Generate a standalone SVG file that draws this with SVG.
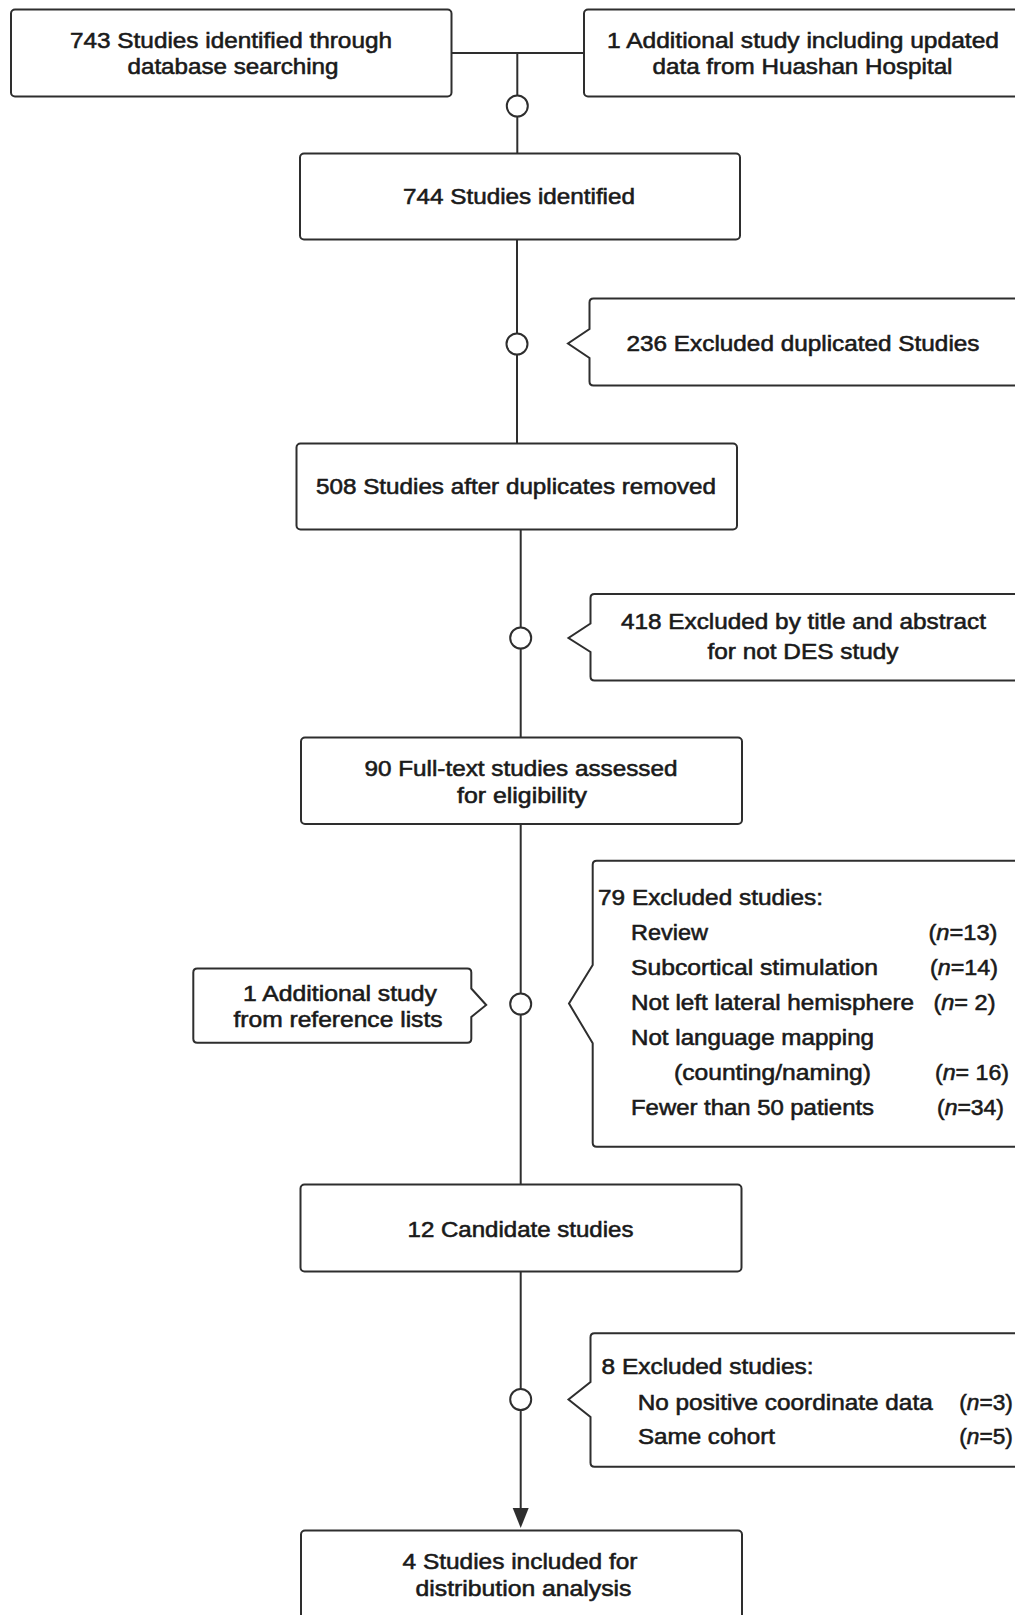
<svg xmlns="http://www.w3.org/2000/svg" width="1015" height="1615" viewBox="0 0 1015 1615">
<style>
.box{fill:#fff;stroke:#2e2e2e;stroke-width:2}
.ln{fill:none;stroke:#2e2e2e;stroke-width:2}
.dot{fill:#fff;stroke:#2e2e2e;stroke-width:2}
text{font-family:"Liberation Sans",Arial,Helvetica,sans-serif;font-size:21.3px;fill:#1a1a1a;stroke:#1a1a1a;stroke-width:0.55}
.c{text-anchor:middle}
.i{font-style:italic}
</style>
<rect width="1015" height="1615" fill="#fff"/>

<g id="connectors">
<line class="ln" x1="451.5" y1="53" x2="584" y2="53"/>
<line class="ln" x1="517.3" y1="53" x2="517.3" y2="153.5"/>
<line class="ln" x1="517" y1="239.5" x2="517" y2="443.5"/>
<line class="ln" x1="520.7" y1="529.5" x2="520.7" y2="737.5"/>
<line class="ln" x1="520.7" y1="824" x2="520.7" y2="1184.5"/>
<path class="ln" d="M520.7,1271.5 V1508"/>
<path d="M512.7,1508 L528.7,1508 L520.7,1528 Z" fill="#2e2e2e"/>
<ellipse class="dot" cx="517.3" cy="106" rx="10.5" ry="10.5"/>
<ellipse class="dot" cx="517" cy="344" rx="10.5" ry="10.5"/>
<ellipse class="dot" cx="520.7" cy="638" rx="10.5" ry="10.5"/>
<ellipse class="dot" cx="520.7" cy="1004" rx="10.5" ry="10.5"/>
<ellipse class="dot" cx="520.7" cy="1399.5" rx="10.5" ry="10.5"/>
</g>

<g id="n1">
<rect class="box" x="11" y="9.5" width="440.5" height="87" rx="4"/>
<text class="c" x="231" y="48" textLength="322" lengthAdjust="spacingAndGlyphs">743 Studies identified through</text>
<text class="c" x="233" y="74" textLength="211" lengthAdjust="spacingAndGlyphs">database searching</text>
</g>

<g id="n2">
<rect class="box" x="584" y="9.5" width="440" height="87" rx="4"/>
<text class="c" x="803" y="48" textLength="392" lengthAdjust="spacingAndGlyphs">1 Additional study including updated</text>
<text class="c" x="802.5" y="74" textLength="300" lengthAdjust="spacingAndGlyphs">data from Huashan Hospital</text>
</g>

<g id="n3">
<rect class="box" x="300" y="153.5" width="440" height="86" rx="4"/>
<text class="c" x="519" y="204" textLength="232" lengthAdjust="spacingAndGlyphs">744 Studies identified</text>
</g>

<g id="n4">
<path class="box" d="M1030,298.5 H593.5 Q589.5,298.5 589.5,302.5 V329 L568,343.5 L589.5,358 V381.5 Q589.5,385.5 593.5,385.5 H1030"/>
<text class="c" x="803" y="350.5" textLength="353" lengthAdjust="spacingAndGlyphs">236 Excluded duplicated Studies</text>
</g>

<g id="n5">
<rect class="box" x="296.5" y="443.5" width="440.5" height="86" rx="4"/>
<text class="c" x="516" y="494.3" textLength="400" lengthAdjust="spacingAndGlyphs">508 Studies after duplicates removed</text>
</g>

<g id="n6">
<path class="box" d="M1030,594 H594.5 Q590.5,594 590.5,598 V623.5 L568.5,638 L590.5,652 V676.5 Q590.5,680.5 594.5,680.5 H1030"/>
<text class="c" x="803.5" y="629.3" textLength="365" lengthAdjust="spacingAndGlyphs">418 Excluded by title and abstract</text>
<text class="c" x="803" y="659" textLength="191" lengthAdjust="spacingAndGlyphs">for not DES study</text>
</g>

<g id="n7">
<rect class="box" x="301" y="737.5" width="441" height="86.5" rx="4"/>
<text class="c" x="521" y="776" textLength="313" lengthAdjust="spacingAndGlyphs">90 Full-text studies assessed</text>
<text class="c" x="522" y="803" textLength="130" lengthAdjust="spacingAndGlyphs">for eligibility</text>
</g>

<g id="n8">
<path class="box" d="M197.3,968.5 H467.3 Q471.3,968.5 471.3,972.5 V988.5 L486.2,1005 L471.3,1017 V1038.7 Q471.3,1042.7 467.3,1042.7 H197.3 Q193.3,1042.7 193.3,1038.7 V972.5 Q193.3,968.5 197.3,968.5 Z"/>
<text class="c" x="340" y="1000.7" textLength="194" lengthAdjust="spacingAndGlyphs">1 Additional study</text>
<text class="c" x="338" y="1026.7" textLength="209" lengthAdjust="spacingAndGlyphs">from reference lists</text>
</g>

<g id="n9">
<path class="box" d="M1030,860.7 H596.7 Q592.7,860.7 592.7,864.7 V965 L569,1003.5 L592.7,1043.3 V1142.7 Q592.7,1146.7 596.7,1146.7 H1030"/>
<text x="598" y="904.5" textLength="225" lengthAdjust="spacingAndGlyphs">79 Excluded studies:</text>
<text x="631" y="940" textLength="77" lengthAdjust="spacingAndGlyphs">Review</text>
<text x="928.5" y="940" textLength="69" lengthAdjust="spacingAndGlyphs">(<tspan class="i">n</tspan>=13)</text>
<text x="631" y="975" textLength="247" lengthAdjust="spacingAndGlyphs">Subcortical stimulation</text>
<text x="930" y="975" textLength="68" lengthAdjust="spacingAndGlyphs">(<tspan class="i">n</tspan>=14)</text>
<text x="631" y="1010" textLength="283" lengthAdjust="spacingAndGlyphs">Not left lateral hemisphere</text>
<text x="933.5" y="1010" textLength="62" lengthAdjust="spacingAndGlyphs">(<tspan class="i">n</tspan>= 2)</text>
<text x="631" y="1045" textLength="243" lengthAdjust="spacingAndGlyphs">Not language mapping</text>
<text x="674" y="1080" textLength="197" lengthAdjust="spacingAndGlyphs">(counting/naming)</text>
<text x="935" y="1080" textLength="74" lengthAdjust="spacingAndGlyphs">(<tspan class="i">n</tspan>= 16)</text>
<text x="631" y="1115" textLength="243" lengthAdjust="spacingAndGlyphs">Fewer than 50 patients</text>
<text x="937" y="1115" textLength="67" lengthAdjust="spacingAndGlyphs">(<tspan class="i">n</tspan>=34)</text>
</g>

<g id="n10">
<rect class="box" x="300.5" y="1184.5" width="441" height="87" rx="4"/>
<text class="c" x="520.5" y="1236.5" textLength="226" lengthAdjust="spacingAndGlyphs">12 Candidate studies</text>
</g>

<g id="n11">
<path class="box" d="M1030,1333.3 H594.5 Q590.5,1333.3 590.5,1337.3 V1382 L568.5,1399.5 L590.5,1417 V1462.7 Q590.5,1466.7 594.5,1466.7 H1030"/>
<text x="601.5" y="1374" textLength="212" lengthAdjust="spacingAndGlyphs">8 Excluded studies:</text>
<text x="637.7" y="1410" textLength="295" lengthAdjust="spacingAndGlyphs">No positive coordinate data</text>
<text x="959.3" y="1410" textLength="53.5" lengthAdjust="spacingAndGlyphs">(<tspan class="i">n</tspan>=3)</text>
<text x="638" y="1444" textLength="137" lengthAdjust="spacingAndGlyphs">Same cohort</text>
<text x="959.3" y="1444" textLength="53.5" lengthAdjust="spacingAndGlyphs">(<tspan class="i">n</tspan>=5)</text>
</g>

<g id="n12">
<rect class="box" x="301" y="1530.5" width="441" height="100" rx="4"/>
<text class="c" x="520" y="1569.3" textLength="235" lengthAdjust="spacingAndGlyphs">4 Studies included for</text>
<text class="c" x="523.5" y="1596" textLength="216" lengthAdjust="spacingAndGlyphs">distribution analysis</text>
</g>
</svg>
